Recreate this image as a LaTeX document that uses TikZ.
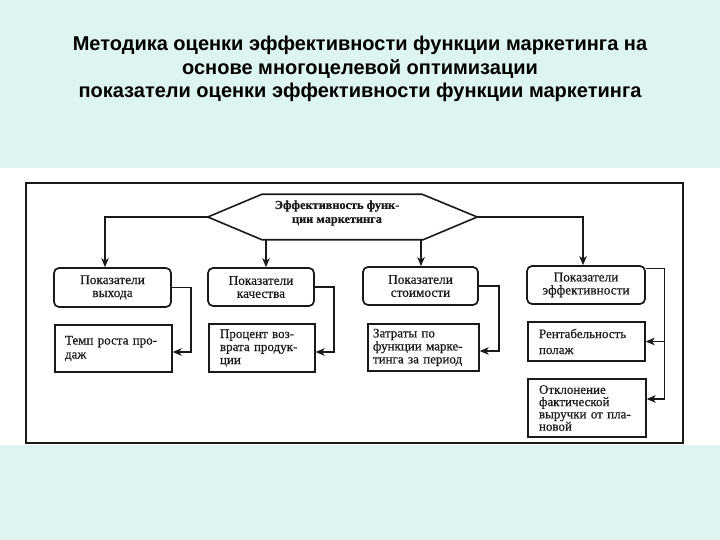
\documentclass[tikz,border=0pt]{standalone}
\usepackage{fontspec}
\setmainfont{Liberation Serif}[FakeBold=0.5]
\newfontfamily\titlefont{Liberation Sans}
\usetikzlibrary{arrows.meta,calc}
\definecolor{bgcyan}{RGB}{222,244,241}
\definecolor{ink}{RGB}{25,25,25}
\tikzset{
  topbox/.style={draw=ink, line width=1.7pt, rounded corners=5pt, inner sep=0pt,
    align=center, text=ink, font=\fontsize{13.3}{13}\selectfont},
  botbox/.style={draw=ink, line width=1.3pt, inner sep=0pt, align=left, text=ink,
    font=\fontsize{13}{14}\selectfont},
  conn/.style={draw=ink, line width=1.3pt, -{Stealth[length=9pt,width=7.5pt,inset=2.5pt]}},
}
\begin{document}
\begin{tikzpicture}[x=1pt,y=-1pt]
\fill[bgcyan] (0,0) rectangle (720,540);
\fill[white] (0,168) rectangle (720,445);
\useasboundingbox (0,0) rectangle (720,540);

\node[font=\titlefont\bfseries\fontsize{20}{23.5}\selectfont, align=center, text=black] (title) at (360,69)
  {Методика оценки эффективности функции маркетинга на\\основе многоцелевой оптимизации\\показатели оценки эффективности функции маркетинга};

\node[draw=ink, line width=1.3pt, minimum width=657pt, minimum height=260pt, inner sep=0pt] (frame) at (354.5,313) {};

% hexagon
\node[minimum width=269pt, minimum height=45pt, inner sep=0pt] (hex) at (342.5,217) {};
\draw[ink, line width=1.6pt, line join=miter] (hex.west) -- ($(hex.north west)+(54,0)$) -- ($(hex.north east)+(-55,0)$)
  -- (hex.east) -- ($(hex.south east)+(-54,0)$) -- ($(hex.south west)+(54,0)$) -- cycle;
\node[font=\bfseries\fontsize{12.3}{14}\selectfont, align=center, text=ink, inner sep=0pt] (hextext) at (337,213)
  {Эффективность функ-\\ции маркетинга};

% top boxes
\node[topbox, minimum width=117pt, minimum height=39pt] (box1) at (112.5,287.5) {Показатели\\выхода};
\node[topbox, minimum width=106pt, minimum height=38pt] (box2) at (261,287) {Показатели\\качества};
\node[topbox, minimum width=115pt, minimum height=38pt] (box3) at (420.5,286) {Показатели\\стоимости};
\node[topbox, minimum width=118pt, minimum height=38pt] (box4) at (586,285) {Показатели\\эффективности};

% bottom boxes
\node[botbox, minimum width=117pt, minimum height=47pt, text width=97pt] (box1b) at (113.5,348.5) {Темп роста про-\\даж};
\node[botbox, minimum width=106pt, minimum height=48pt, text width=84pt, font=\fontsize{13}{13}\selectfont] (box2b) at (262,348) {Процент воз-\\врата продук-\\ции};
\node[botbox, minimum width=111pt, minimum height=47pt, text width=101pt, font=\fontsize{13}{13}\selectfont] (box3b) at (423.5,347.5) {Затраты по\\функции марке-\\тинга за период};
\node[botbox, minimum width=117pt, minimum height=39pt, text width=95pt, font=\fontsize{13}{16}\selectfont] (box4b) at (586.5,341.5) {Рентабельность\\полаж};
\node[botbox, minimum width=118pt, minimum height=58pt, text width=96pt, font=\fontsize{13}{12.3}\selectfont] (box5b) at (587,408) {Отклонение\\фактической\\выручки от пла-\\новой};

% connectors from hexagon
\coordinate (a1) at (105,250);
\coordinate (a2) at (266,250);
\coordinate (a3) at (421,250);
\coordinate (a4) at (583,250);
\draw[conn] (hex.west) -| (box1.north -| a1);
\draw[conn] (hex.south -| a2) -- (box2.north -| a2);
\draw[conn] (hex.south -| a3) -- (box3.north -| a3);
\draw[conn] (hex.east) -| (box4.north -| a4);

% side connectors
\draw[conn] (box1.east) -- ++(19,0) |- ($(box1b.east)+(0,3.5)$);
\draw[conn] (box2.east) -- ++(19,0) |- ($(box2b.east)+(0,4)$);
\draw[conn] (box3.east) -- ++(20,0) |- ($(box3b.east)+(0,3.5)$);
\coordinate (v4) at ($(box5b.east)+(18,0)$);
\draw[conn] ($(box4.north east)+(0,3)$) -| ($(v4)+(0,-9)$) -- ($(box5b.east)+(0,-9)$);
\draw[conn] (box4b.east -| v4) -- (box4b.east);
\end{tikzpicture}
\end{document}
